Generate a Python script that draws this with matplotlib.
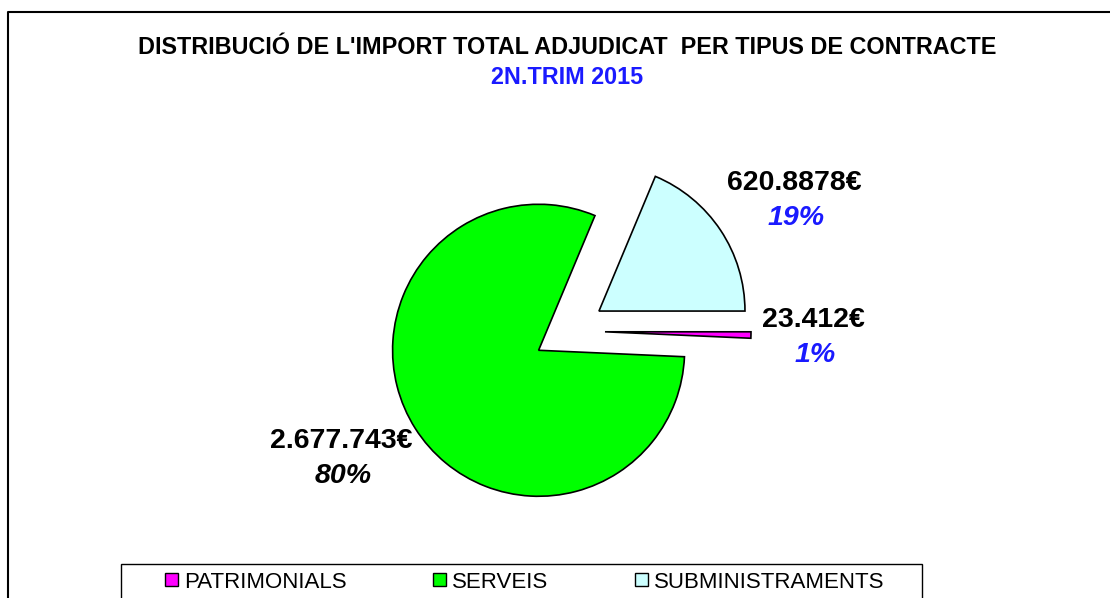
import matplotlib.pyplot as plt
from matplotlib.patches import Rectangle, Patch
from matplotlib.lines import Line2D

plt.rcParams['font.family'] = ['Liberation Sans', 'DejaVu Sans']

# dades
categories = ['PATRIMONIALS', 'SERVEIS', 'SUBMINISTRAMENTS']
imports = [23412, 2677743, 620887.8]
import_labels = ['23.412€', '2.677.743€', '620.8878€']
pct_labels = ['1%', '80%', '19%']
colors = ['#FF00FF', '#00FF00', '#CCFFFF']
pct_colors = ['#1a1aff', 'black', '#1a1aff']

W, H = 1110, 598
fig = plt.figure(figsize=(W / 100, H / 100), dpi=100)
ax = fig.add_axes([0, 0, 1, 1])

# pastís (coordenades en píxels, y cap amunt)
wedges, _ = ax.pie(imports, colors=colors, startangle=0, counterclock=False,
                   center=(569, H - 331), radius=146, explode=[36, 36, 36],
                   wedgeprops=dict(edgecolor='black', linewidth=1.2))
ax.set_xlim(0, W)
ax.set_ylim(0, H)
ax.axis('off')

# etiquetes
label_pos = [(813, H - 320), (341, H - 441), (794, H - 183)]
for (x, y), t, p, c in zip(label_pos, import_labels, pct_labels, pct_colors):
    ax.text(x, y, t, ha='center', va='center', fontsize=20.5, fontweight='bold')
    ax.text(x + 2, y - 35, p, ha='center', va='center', fontsize=20.5,
            fontweight='bold', style='italic', color=c)

# títol
ax.text(567, H - 47, "DISTRIBUCIÓ DE L'IMPORT TOTAL ADJUDICAT  PER TIPUS DE CONTRACTE",
        ha='center', va='center', fontsize=16.8, fontweight='bold')
ax.text(567, H - 77, '2N.TRIM 2015', ha='center', va='center', fontsize=16.8,
        fontweight='bold', color='#1a1aff')

# marc exterior
ax.add_line(Line2D([8, 8, W + 5], [-5, H - 12, H - 12], color='black', lw=1.5, clip_on=False))

# llegenda
ax.add_patch(Rectangle((121, -10), 801, H - 564 + 10, fill=False, edgecolor='black', lw=1))
handles = [Patch(facecolor=c, edgecolor='black', lw=1) for c in colors]
fig.legend(handles, categories, loc='center', bbox_to_anchor=(525 / W, 1 - 582 / H),
           ncol=3, frameon=False, fontsize=16, handlelength=0.55, handleheight=0.55,
           handletextpad=0.3, columnspacing=3.9)

plt.savefig('out.png', dpi=100)
